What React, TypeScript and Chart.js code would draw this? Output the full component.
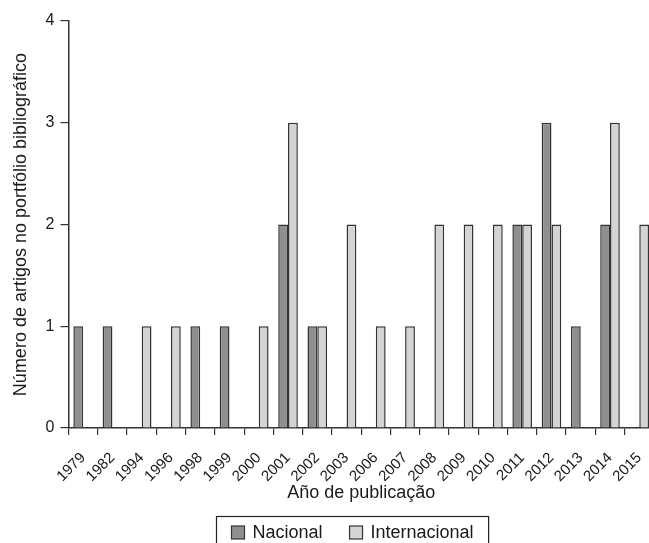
import { useEffect, useRef } from 'react';
import { Chart, registerables } from 'chart.js';

Chart.register(...registerables);

const years = ['1979', '1982', '1994', '1996', '1998', '1999', '2000', '2001', '2002', '2003', '2006', '2007', '2008', '2009', '2010', '2011', '2012', '2013', '2014', '2015'];
const nacional = [1, 1, 0, 0, 1, 1, 0, 2, 1, 0, 0, 0, 0, 0, 0, 2, 3, 1, 2, 0];
const internacional = [0, 0, 1, 1, 0, 0, 1, 3, 1, 2, 1, 1, 2, 2, 2, 2, 2, 0, 3, 2];
const yMin = 0;
const yMax = 4;
const yStep = 1;

const FONT = '"Liberation Sans", Arial, Helvetica, sans-serif';
const NAC_COLOR = '#8f8f92';
const INT_COLOR = '#d4d4d4';
const EDGE = '#333333';

const boxLegend = {
  id: 'boxLegend',
  afterDraw(chart: any) {
    const ctx = chart.ctx as CanvasRenderingContext2D;
    ctx.save();
    ctx.font = `18px ${FONT}`;
    const items = chart.data.datasets.map((ds: any) => ({ label: ds.label as string, color: ds.backgroundColor as string }));
    const box = 13;
    const gap = 8;
    const itemGap = 27;
    const padX = 15;
    const widths = items.map((it: any) => box + gap + ctx.measureText(it.label).width);
    const total = widths.reduce((a: number, b: number) => a + b, 0) + itemGap * (items.length - 1) + padX * 2;
    const cx = (chart.chartArea.left + chart.chartArea.right) / 2 - 9;
    const left = Math.round(cx - total / 2) + 0.5;
    const top = chart.height - 26.5;
    ctx.strokeStyle = '#222';
    ctx.lineWidth = 1.2;
    ctx.strokeRect(left, top, total, 60);
    let x = left + padX;
    const midY = top + 16;
    items.forEach((it: any, i: number) => {
      ctx.fillStyle = it.color;
      ctx.fillRect(x, midY - box / 2, box, box);
      ctx.strokeStyle = EDGE;
      ctx.lineWidth = 1.2;
      ctx.strokeRect(x, midY - box / 2, box, box);
      ctx.fillStyle = '#1a1a1a';
      ctx.textBaseline = 'middle';
      ctx.textAlign = 'left';
      ctx.fillText(it.label, x + box + gap, midY + 1);
      x += widths[i] + itemGap;
    });
    ctx.restore();
  },
};

export default function App() {
  const ref = useRef<HTMLCanvasElement>(null);
  useEffect(() => {
    if (!ref.current) return;
    const chart = new Chart(ref.current, {
      type: 'bar',
      data: {
        labels: years,
        datasets: [
          {
            label: 'Nacional',
            data: nacional,
            backgroundColor: NAC_COLOR,
            borderColor: EDGE,
            borderWidth: 1.5,
            borderSkipped: 'bottom',
            categoryPercentage: 0.67,
            barPercentage: 1.0,
          },
          {
            label: 'Internacional',
            data: internacional,
            backgroundColor: INT_COLOR,
            borderColor: EDGE,
            borderWidth: 1.5,
            borderSkipped: 'bottom',
            categoryPercentage: 0.67,
            barPercentage: 1.0,
          },
        ],
      },
      options: {
        responsive: false,
        animation: false,
        layout: { padding: { left: 0, right: 0, top: 21, bottom: 41 } },
        plugins: {
          legend: { display: false },
          tooltip: { enabled: false },
        },
        scales: {
          x: {
            offset: true,
            grid: { offset: true, drawOnChartArea: false, drawTicks: true, tickLength: 7, color: '#333', lineWidth: 1.2 },
            border: { display: true, color: '#333', width: 1.5 },
            ticks: {
              minRotation: 45,
              maxRotation: 45,
              autoSkip: false,
              color: '#1a1a1a',
              padding: 14,
              font: { family: FONT, size: 15 },
            },
            title: {
              display: true,
              text: 'Año de publicação',
              color: '#1a1a1a',
              font: { family: FONT, size: 18 },
              padding: { top: -17, bottom: -2 },
            },
          },
          y: {
            min: yMin,
            max: yMax,
            ticks: {
              stepSize: yStep,
              color: '#1a1a1a',
              padding: 6,
              font: { family: FONT, size: 16 },
            },
            grid: { drawOnChartArea: false, drawTicks: true, tickLength: 8, color: '#333', lineWidth: 1.2 },
            border: { display: true, color: '#333', width: 1.5 },
            title: {
              display: true,
              text: 'Número de artigos no portfólio bibliográfico',
              color: '#1a1a1a',
              font: { family: FONT, size: 18 },
              padding: { top: 10, bottom: 8 },
            },
          },
        },
      },
      plugins: [boxLegend],
    });
    return () => chart.destroy();
  }, []);
  return (
    <div style={{ position: 'fixed', left: 0, top: 0, width: 649, height: 543, overflow: 'hidden', background: '#fff' }}>
      <canvas ref={ref} width={666} height={543} style={{ width: 666, height: 543, display: 'block' }} />
    </div>
  );
}
